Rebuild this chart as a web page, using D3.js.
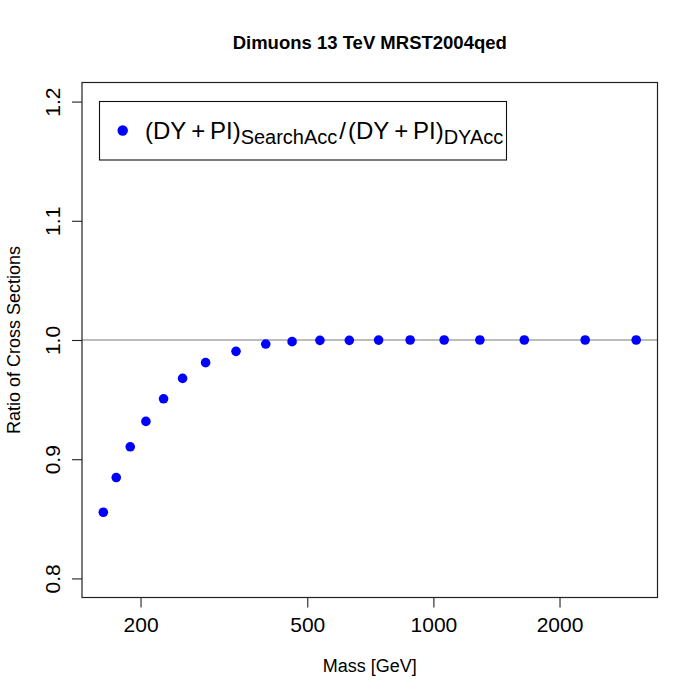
<!DOCTYPE html>
<html>
<head>
<meta charset="utf-8">
<script src="https://cdn.jsdelivr.net/npm/d3@7"></script>
<style>
  body { margin: 0; background: #fff; }
  svg { display: block; }
  text { font-family: "Liberation Sans", Arial, Helvetica, sans-serif; fill: #000; }
</style>
</head>
<body>
<svg id="chart" width="700" height="700"></svg>
<script>
// ---- data ----
const masses = [163, 175, 189, 206, 227, 252, 286, 338, 398, 460, 536, 630, 740, 880, 1061, 1291, 1648, 2303, 3048];
const ratios = [0.8555, 0.8846, 0.9104, 0.9317, 0.9507, 0.9678, 0.9810, 0.9905, 0.9966, 0.9986, 0.9997, 0.9997, 0.9999, 1.0, 1.0, 1.0, 1.0, 1.0, 1.0];
const xTicks = [200, 500, 1000, 2000];
const xTickLabels = ["200", "500", "1000", "2000"];
const yTicks = [0.8, 0.9, 1.0, 1.1, 1.2];
const yTickLabels = ["0.8", "0.9", "1.0", "1.1", "1.2"];
const titleText = "Dimuons 13 TeV MRST2004qed";
const xTitle = "Mass [GeV]";
const yTitle = "Ratio of Cross Sections";
const refLine = 1.0;

// ---- layout ----
const pL = 82, pR = 657.5, pT = 82.5, pB = 597.5;
const svg = d3.select("#chart");

const lmin = Math.log10(d3.min(masses)), lmax = Math.log10(d3.max(masses));
const pad = (lmax - lmin) * 0.04;
const x = d3.scaleLog().domain([Math.pow(10, lmin - pad), Math.pow(10, lmax + pad)]).range([pL, pR]);
const y = d3.scaleLinear().domain([0.784, 1.216]).range([pB, pT]);

// reference line
svg.append("line")
  .attr("x1", pL).attr("x2", pR)
  .attr("y1", y(refLine)).attr("y2", y(refLine))
  .attr("stroke", "#7a7a7a").attr("stroke-width", 1.2);

// points
svg.append("g").selectAll("circle").data(masses).join("circle")
  .attr("cx", (d) => x(d))
  .attr("cy", (d, i) => y(ratios[i]))
  .attr("r", 4.8)
  .attr("fill", "#0000ff");

// box
svg.append("rect")
  .attr("x", pL).attr("y", pT)
  .attr("width", pR - pL).attr("height", pB - pT)
  .attr("fill", "none").attr("stroke", "#222").attr("stroke-width", 1.2);

// x axis
const xAxis = d3.axisBottom(x).tickValues(xTicks).tickSize(10).tickPadding(6)
  .tickFormat((d, i) => xTickLabels[i]);
const gx = svg.append("g").attr("transform", `translate(0,${pB})`).call(xAxis);
gx.select(".domain").remove();
gx.selectAll(".tick line").attr("stroke", "#222").attr("stroke-width", 1.1);
gx.selectAll(".tick text").attr("font-size", 21).attr("font-family", "Liberation Sans, Arial, sans-serif")
  .attr("fill", "#000").attr("y", 19).attr("dy", "0.75em");

// y axis
const yAxis = d3.axisLeft(y).tickValues(yTicks).tickSize(10)
  .tickFormat((d, i) => yTickLabels[i]);
const gy = svg.append("g").attr("transform", `translate(${pL},0)`).call(yAxis);
gy.select(".domain").remove();
gy.selectAll(".tick line").attr("stroke", "#222").attr("stroke-width", 1.1);
gy.selectAll(".tick text")
  .attr("font-size", 21).attr("font-family", "Liberation Sans, Arial, sans-serif").attr("fill", "#000")
  .attr("x", null).attr("dy", null)
  .attr("text-anchor", "middle")
  .attr("transform", "translate(-22,0) rotate(-90)");

// title
svg.append("text").attr("x", (pL + pR) / 2).attr("y", 49)
  .attr("text-anchor", "middle").attr("font-size", 18.5).attr("font-weight", "bold")
  .text(titleText);

// axis titles
svg.append("text").attr("x", (pL + pR) / 2).attr("y", 672)
  .attr("text-anchor", "middle").attr("font-size", 18).text(xTitle);
svg.append("text")
  .attr("transform", `translate(20,${(pT + pB) / 2}) rotate(-90)`)
  .attr("text-anchor", "middle").attr("font-size", 18).text(yTitle);

// legend
svg.append("rect").attr("x", 99.5).attr("y", 101.5).attr("width", 407).attr("height", 58.5)
  .attr("fill", "#fff").attr("stroke", "#111").attr("stroke-width", 1.1);
svg.append("circle").attr("cx", 122.7).attr("cy", 130.5).attr("r", 5.2).attr("fill", "#0000ff");
const lt = svg.append("text").attr("x", 145).attr("y", 139).attr("font-size", 24);
lt.append("tspan").text("(DY\u2009+\u2009PI)");
lt.append("tspan").attr("font-size", 20).attr("dy", 5).text("SearchAcc");
lt.append("tspan").attr("dy", -5).attr("dx", 2).text("/");
lt.append("tspan").attr("dx", 2).text("(DY\u2009+\u2009PI)");
lt.append("tspan").attr("font-size", 20).attr("dy", 5).text("DYAcc");
</script>
</body>
</html>
